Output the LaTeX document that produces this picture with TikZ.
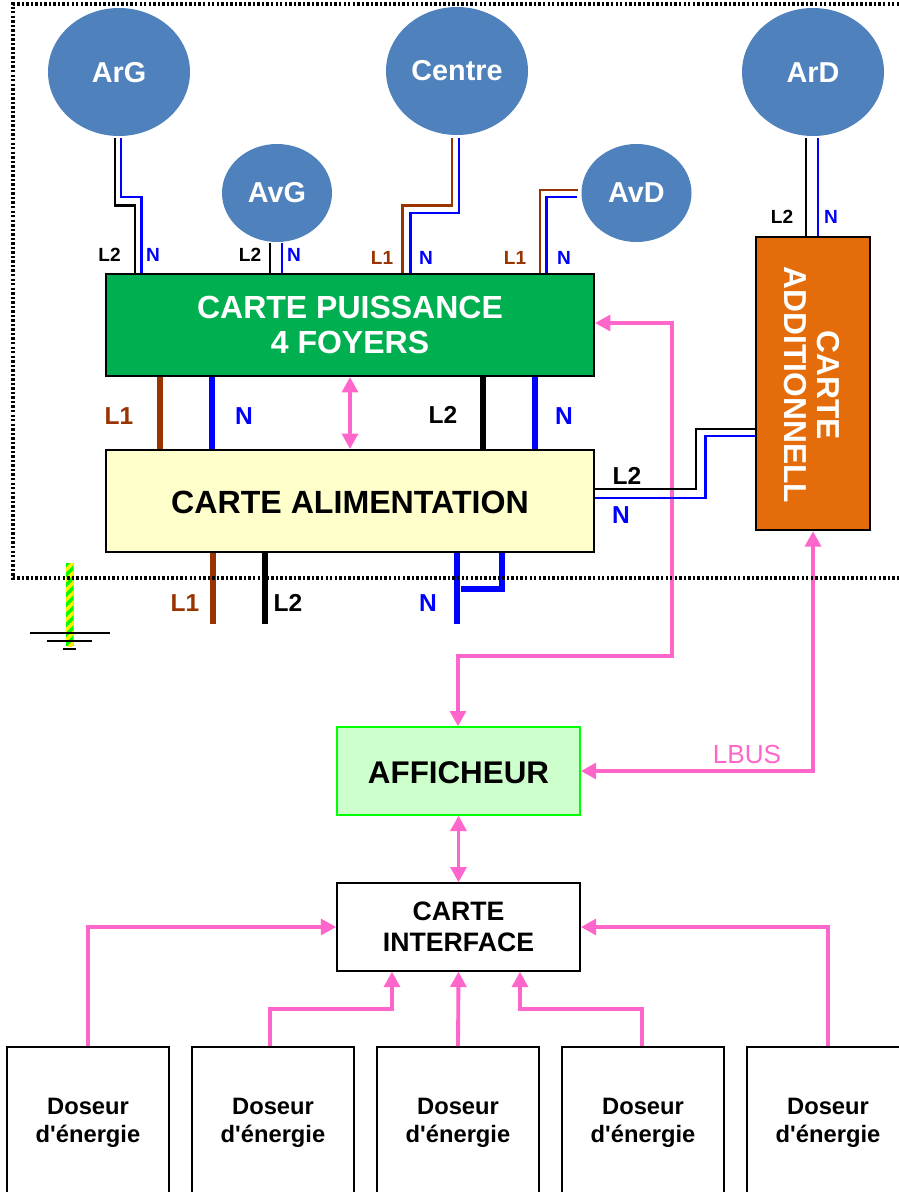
\documentclass[tikz,border=0pt]{standalone}
\usepackage{fontspec}
\setmainfont[Ligatures=TeXOff]{Liberation Sans}
\definecolor{ballblue}{HTML}{4F81BD}
\definecolor{pinkw}{HTML}{FF66CC}
\definecolor{brownw}{HTML}{993300}
\definecolor{bluew}{HTML}{0000FF}
\definecolor{pwgreen}{HTML}{00B050}
\definecolor{alimy}{HTML}{FFFFCC}
\definecolor{addor}{HTML}{E46C0A}
\definecolor{afflg}{HTML}{CCFFCC}
\definecolor{afflb}{HTML}{00FF00}
\usetikzlibrary{arrows.meta,shapes.geometric}
\newcommand{\fs}[1]{\fontsize{#1}{#1}\selectfont\bfseries}
\tikzset{
  ball/.style={ellipse,fill=ballblue,inner sep=0pt,text=white,font=\fs{21.6}},
  bigball/.style={ball,minimum width=106.5pt,minimum height=96pt},
  smallball/.style={ball,minimum width=82.5pt,minimum height=73.5pt},
  cardbox/.style={draw=black,line width=1.5pt,inner sep=0pt,align=center},
  doseur/.style={draw=black,line width=1.5pt,fill=white,inner sep=0pt,minimum width=122pt,minimum height=120pt,align=center,font=\fs{17.8}},
  wb/.style={draw=black,line width=2.1pt},
  wbl/.style={draw=bluew,line width=2.1pt},
  wbr/.style={draw=brownw,line width=2.1pt},
  tb/.style={draw=black,line width=4.5pt},
  tbl/.style={draw=bluew,line width=4.5pt},
  tbr/.style={draw=brownw,line width=4.5pt},
  pink/.style={draw=pinkw,line width=2.9pt},
  pto/.style={pink,-{Triangle[length=11.5pt,width=11.8pt]}},
  ptt/.style={pink,{Triangle[length=11.5pt,width=11.8pt]}-{Triangle[length=11.5pt,width=11.8pt]}},
  lab/.style={inner sep=0pt,font=\fs{14.3}},
  labb/.style={inner sep=0pt,font=\fs{18.4}},
}
\begin{document}
\begin{tikzpicture}[x=0.75pt,y=-0.75pt]
\useasboundingbox (0,0) rectangle (899,1192);
\fill[white] (0,0) rectangle (899,1192);
\clip (0,0) rectangle (899,1192);
% round nodes
\node[bigball] (arg) at (119,72) {\raisebox{-7.9pt}[0pt][0pt]{ArG}};
\node[bigball] (cen) at (457,71) {Centre};
\node[bigball] (ard) at (813,72) {\raisebox{-7.9pt}[0pt][0pt]{ArD}};
\node[smallball] (avg) at (277,193) {AvG};
\node[smallball] (avd) at (636.5,193) {AvD};
% cards
\node[cardbox,fill=pwgreen,text=white,minimum width=366pt,minimum height=76.5pt,font=\fs{24}] (pu) at (350,325) {CARTE PUISSANCE\\[2.6pt]4 FOYERS};
\node[cardbox,fill=alimy,minimum width=366pt,minimum height=76.5pt,font=\fs{24.1}] (al) at (350,501) {\raisebox{-9.35pt}[0pt][0pt]{CARTE ALIMENTATION}};
\node[cardbox,fill=addor,text=white,minimum width=85.5pt,minimum height=220pt] (ad) at (813,383.5) {};
\node[text=white,rotate=-90,align=center,inner sep=0pt,font=\fs{23.8}] (adt) at (812,385) {CARTE\\[1.5pt]ADDITIONNELL};
\node[draw=afflb,line width=1.5pt,fill=afflg,inner sep=0pt,minimum width=182pt,minimum height=65.5pt,font=\fs{23.5}] (af) at (458.5,771) {\raisebox{-9.3pt}[0pt][0pt]{AFFICHEUR}};
\node[draw=black,line width=1.5pt,fill=white,inner sep=0pt,minimum width=182pt,minimum height=65.5pt,align=center,font=\fs{20}] (in) at (458.5,927) {CARTE\\[3.5pt]INTERFACE};
% dosers
\foreach \n/\x in {d1/88,d2/273,d3/458,d4/643,d5/828}{
  \node[doseur] (\n) at (\x,1127) {\raisebox{9.5pt}{\shortstack{Doseur\\[5pt]d'énergie}}};
}
% free wire ends
\coordinate (fa) at (115,138);
\coordinate (fb) at (121,138);
\coordinate (fc) at (270,243);
\coordinate (fd) at (282,243);
\coordinate (fe) at (452,138);
\coordinate (ff) at (459,138);
\coordinate (fg) at (578,190);
\coordinate (fh) at (577,197);
\coordinate (fi) at (806,138);
\coordinate (fj) at (818,138);
% motor wires
\draw[wb]  (fa) -- (115,205.5) -- (135,205.5) -- (135,0 |- pu.north);
\draw[wbl] (fb) -- (121,197) -- (141.5,197) -- (141.5,0 |- pu.north);
\draw[wb]  (fc) -- (270,0 |- pu.north);
\draw[wbl] (fd) -- (282,0 |- pu.north);
\draw[wbr] (fe) -- (452,205.5) -- (402.5,205.5) -- (402.5,0 |- pu.north);
\draw[wbl] (ff) -- (459,213) -- (410.5,213) -- (410.5,0 |- pu.north);
\draw[wbr] (fg) -- (540,190) -- (540,0 |- pu.north);
\draw[wbl] (fh) -- (546.5,197) -- (546.5,0 |- pu.north);
\draw[wb]  (fi) -- (806,0 |- ad.north);
\draw[wbl] (fj) -- (818,0 |- ad.north);
% thick wires
\draw[tbr] (160,0 |- pu.south) -- (160,0 |- al.north);
\draw[tbl] (212,0 |- pu.south) -- (212,0 |- al.north);
\draw[tb]  (483,0 |- pu.south) -- (483,0 |- al.north);
\draw[tbl] (535,0 |- pu.south) -- (535,0 |- al.north);
\draw[ptt] (pu.south) -- (al.north);
% pink network
\draw[ptt] (pu.east |- 0,323) -- (672,323) -- (672,656) -- (458,656) -- (458,0 |- af.north);
\draw[ptt] (af.east) -- (813,771) -- (ad.south);
\draw[ptt] (af.south) -- (in.north);
\draw[pto] (d1.north) -- (88,927) -- (in.west);
\draw[pto] (270,0 |- d2.north) -- (270,1009) -- (392,1009) -- (392,0 |- in.south);
\draw[pto] (d3.north) -- (in.south);
\draw[pto] (642,0 |- d4.north) -- (642,1009) -- (520,1009) -- (520,0 |- in.south);
\draw[pto] (d5.north) -- (828,927) -- (in.east);
% supply to additional card
\draw[wb]  (al.east |- 0,489) -- (696,489) -- (696,429) -- (ad.west |- 0,429);
\draw[wbl] (al.east |- 0,498) -- (705.5,498) -- (705.5,436) -- (ad.west |- 0,436);
% mains
\coordinate (m1) at (213,624);
\coordinate (m2) at (265,624);
\coordinate (m3) at (457,624);
\coordinate (m4) at (461,589);
\draw[tbr] (213,0 |- al.south) -- (m1);
\draw[tb]  (265,0 |- al.south) -- (m2);
\draw[tbl] (457,0 |- al.south) -- (m3);
\draw[tbl] (501.5,0 |- al.south) -- (501.5,589) -- (m4);
% earth
\begin{scope}
\clip (66,563) rectangle (73.5,646);
\fill[afflb] (66,563) rectangle (73.5,646);
\foreach \y in {555,565,...,655}{\draw[yellow,line width=2.6pt] (62,\y+9) -- (78,\y-7);}
\end{scope}
\draw[black,line width=1.4pt] (30,633) -- (110,633);
\draw[black,line width=1.4pt] (47,641) -- (92,641);
\draw[black,line width=1.4pt] (63,649) -- (76,649);
% frame
\draw[black,line width=2.3pt,dash pattern=on 1.8pt off 1.6pt] (899,4) -- (13,4) -- (13,578) -- (899,578);
% wire labels
\node[lab] (l01) at (109.5,255) {L2};
\node[lab,text=bluew] (l02) at (153,255) {N};
\node[lab] (l03) at (250,255) {L2};
\node[lab,text=bluew] (l04) at (294,255) {N};
\node[lab,text=brownw] (l05) at (382,258) {L1};
\node[lab,text=bluew] (l06) at (426,258) {N};
\node[lab,text=brownw] (l07) at (515,258) {L1};
\node[lab,text=bluew] (l08) at (564,258) {N};
\node[lab] (l09) at (782,217) {L2};
\node[lab,text=bluew] (l10) at (831,217) {N};
\node[labb,text=brownw] (l11) at (119,416) {L1};
\node[labb,text=bluew] (l12) at (244,416) {N};
\node[labb] (l13) at (443,415) {L2};
\node[labb,text=bluew] (l14) at (564,416) {N};
\node[labb] (l15) at (627,476) {L2};
\node[labb,text=bluew] (l16) at (621,515) {N};
\node[labb,text=brownw] (l17) at (185,603) {L1};
\node[labb] (l18) at (288,603) {L2};
\node[labb,text=bluew] (l19) at (428,603) {N};
\node[inner sep=0pt,text=pinkw,font=\fontsize{19.6}{19.6}\selectfont] (lb) at (747,754) {LBUS};
\end{tikzpicture}
\end{document}
